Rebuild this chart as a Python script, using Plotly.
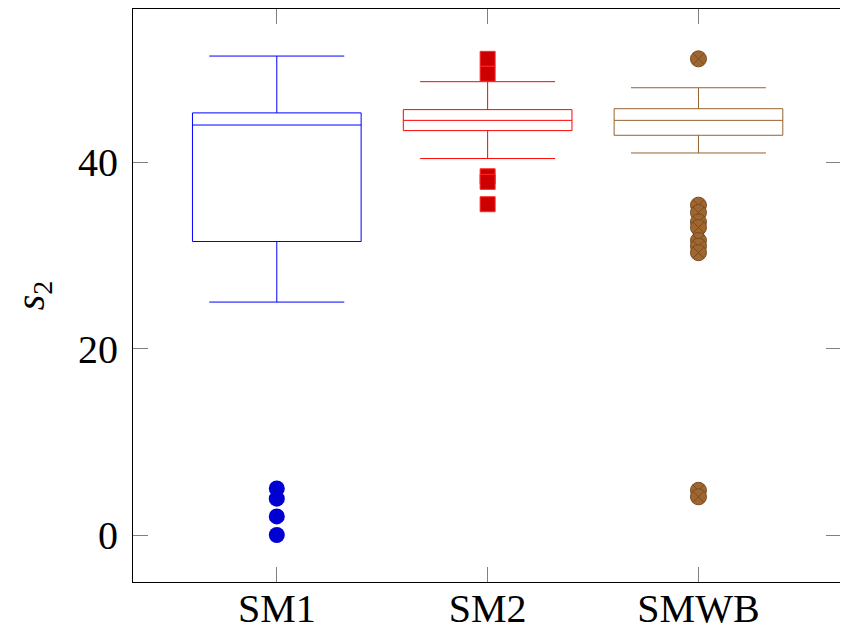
import plotly.graph_objects as go

categories = ["SM1", "SM2", "SMWB"]
positions = [1, 2, 3]

lower_whisker = [25.0, 40.4, 41.0]
q1_vals = [31.5, 43.4, 42.9]
median_vals = [44.0, 44.5, 44.5]
q3_vals = [45.3, 45.65, 45.75]
upper_whisker = [51.4, 48.65, 48.0]

outliers_sm1 = [5.0, 3.9, 2.0, 0.0]
outliers_sm2 = [51.1, 49.5, 38.5, 37.9, 35.5]
outliers_smwb = [51.1, 35.4, 34.6, 33.6, 33.0, 31.6, 31.0, 30.3, 4.8, 4.1]

y_ticks = [0, 20, 40]

box_colors = ["rgb(0,0,255)", "rgb(255,0,0)", "rgb(150,98,48)"]
FONT = "Liberation Serif"

fig = go.Figure()

for i in range(3):
    fig.add_trace(go.Box(
        x=[positions[i]],
        q1=[q1_vals[i]], median=[median_vals[i]], q3=[q3_vals[i]],
        lowerfence=[lower_whisker[i]], upperfence=[upper_whisker[i]],
        width=0.8, whiskerwidth=0.8,
        line=dict(color=box_colors[i], width=1),
        fillcolor="rgba(255,255,255,0)",
        boxpoints=False, hoverinfo="skip", showlegend=False,
    ))

fig.add_trace(go.Scatter(
    x=[positions[0]] * len(outliers_sm1), y=outliers_sm1, mode="markers",
    marker=dict(symbol="circle", size=16, color="rgb(0,0,210)",
                line=dict(width=0)),
    showlegend=False,
))
fig.add_trace(go.Scatter(
    x=[positions[1]] * len(outliers_sm2), y=outliers_sm2, mode="markers",
    marker=dict(symbol="square", size=15, color="rgb(204,0,0)",
                line=dict(width=1, color="rgb(255,40,40)")),
    showlegend=False,
))
fig.add_trace(go.Scatter(
    x=[positions[2]] * len(outliers_smwb), y=outliers_smwb, mode="markers",
    marker=dict(symbol="circle-x", size=16, color="rgb(160,102,48)",
                line=dict(width=1, color="rgb(120,75,35)")),
    showlegend=False,
))

axis_common = dict(
    showline=True, linecolor="black", linewidth=1, mirror="ticks",
    ticks="inside", ticklen=15, tickcolor="rgb(128,128,128)", tickwidth=1,
    showgrid=False, zeroline=False, automargin=False,
    tickfont=dict(family=FONT, size=40, color="black"),
)

fig.update_layout(
    width=840, height=624,
    margin=dict(l=125, r=7, t=1, b=50),
    plot_bgcolor="white", paper_bgcolor="white",
    xaxis=dict(range=[0.318, 3.676], tickvals=positions, ticktext=categories,
               ticklabelstandoff=-9, **axis_common),
    yaxis=dict(range=[-5.04, 56.45], tickvals=y_ticks,
               ticklabelstandoff=6,
               title=dict(text="<i>s</i><sub>2</sub>",
                          font=dict(family=FONT, size=40, color="black"),
                          standoff=31),
               **axis_common),
)

fig.write_html("out.html")
